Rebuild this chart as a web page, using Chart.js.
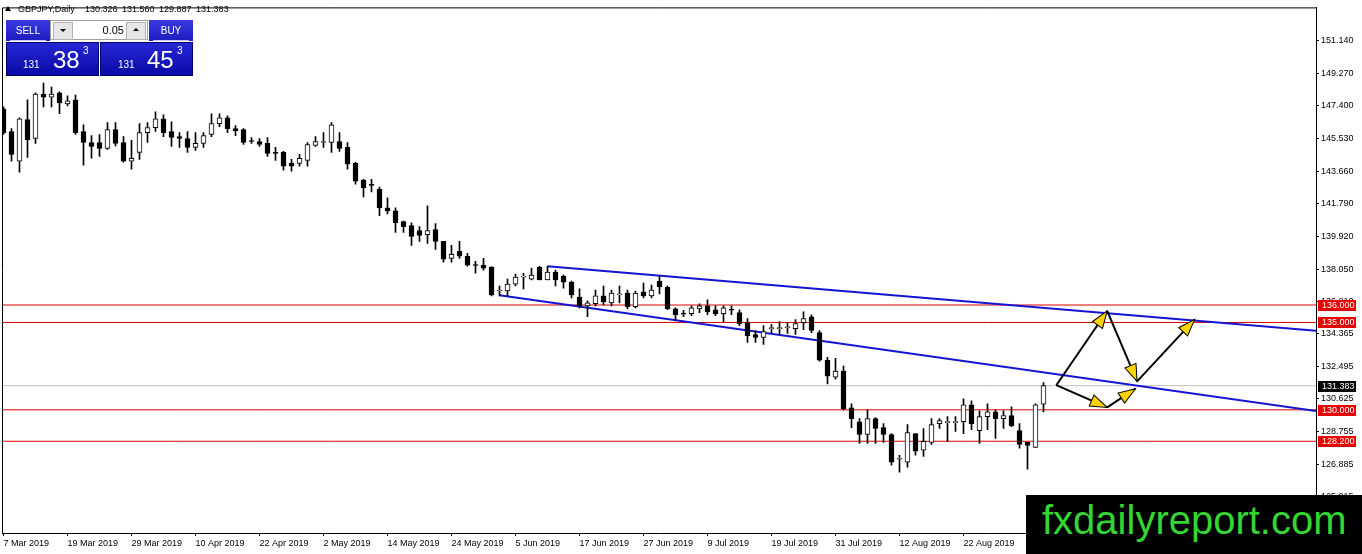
<!DOCTYPE html>
<html>
<head>
<meta charset="utf-8">
<title>GBPJPY,Daily</title>
<script src="https://cdn.jsdelivr.net/npm/chart.js@4.4.1/dist/chart.umd.min.js"></script>
<style>
  html, body { margin: 0; padding: 0; background: #fff; }
  #wrap { position: relative; width: 1362px; height: 554px; overflow: hidden; font-family: "Liberation Sans", Arial, sans-serif; }
  #chart { position: absolute; left: 0; top: 0; }
  .abs { position: absolute; white-space: nowrap; }
  .title { left: 18px; top: 5px; font-size: 9px; line-height: 9px; color: #000; }
  .tri { position: absolute; left: 5px; top: 6px; width: 0; height: 0; border-left: 3px solid transparent; border-right: 3px solid transparent; border-bottom: 5px solid #000; }
  .btn { top: 20px; height: 21px; width: 44px; background: linear-gradient(#3a3ae0, #1c1cc0); color: #fff; font-size: 10px; line-height: 21px; text-align: center; }
  .lot { left: 50px; top: 20px; width: 98px; height: 20px; background: #fff; border: 1px solid #a0a0a0; box-sizing: border-box; }
  .arr { position: absolute; top: 1px; width: 18px; height: 16px; background: #e6e6e6; border: 1px solid #b4b4b4; }
  .dn { left: 2px; }
  .up { right: 1px; }
  .dn i, .up i { position: absolute; left: 6px; top: 6px; width: 0; height: 0; border-left: 3px solid transparent; border-right: 3px solid transparent; }
  .dn i { border-top: 3px solid #000; }
  .up i { border-bottom: 3px solid #000; top: 5px; }
  .lotval { position: absolute; right: 23px; top: 3px; font-size: 11px; line-height: 12px; color: #000; }
  .price { top: 42px; height: 34px; width: 93px; background: linear-gradient(#2626d4, #0a0aa8); border: 1px solid #00006a; box-sizing: border-box; }
  .sep { position: absolute; top: 40px; height: 1px; background: #c8c8ff; }
  .pt { color: #fff; }
  .small { font-size: 10px; line-height: 10px; }
  .big { font-size: 24px; line-height: 24px; }
  #mark { left: 1026px; top: 495px; width: 336px; height: 59px; background: #000; }
  #mark span { position: absolute; left: 16px; top: 5px; font-size: 40px; line-height: 40px; color: #33d633; }
</style>
</head>
<body>
<div id="wrap">
  <canvas id="chart" width="1362" height="554"></canvas>

  <div class="tri"></div>
  <div class="abs title">GBPJPY,Daily</div>
  <div class="abs title" style="left:85px;word-spacing:2px;">130.326 131.560 129.887 131.383</div>

  <div class="abs btn" style="left:6px;">SELL</div>
  <div class="abs lot">
    <div class="arr dn"><i></i></div>
    <div class="lotval">0.05</div>
    <div class="arr up"><i></i></div>
  </div>
  <div class="abs btn" style="left:149px;">BUY</div>
  <div class="sep" style="left:10px;width:36px;"></div>
  <div class="sep" style="left:153px;width:36px;"></div>

  <div class="abs price" style="left:6px;"></div>
  <div class="abs price" style="left:100px;"></div>
  <div class="abs pt small" style="left:23px;top:60px;">131</div>
  <div class="abs pt big" style="left:53px;top:48px;">38</div>
  <div class="abs pt small" style="left:83px;top:46px;">3</div>
  <div class="abs pt small" style="left:118px;top:60px;">131</div>
  <div class="abs pt big" style="left:147px;top:48px;">45</div>
  <div class="abs pt small" style="left:177px;top:46px;">3</div>

  <div class="abs" id="mark"><span>fxdailyreport.com</span></div>
</div>

<script>
// bar 0 = 7 Mar 2019, one bar per trading day, last bar = 5 Sep 2019
const tickLabels = ['7 Mar 2019', '19 Mar 2019', '29 Mar 2019', '10 Apr 2019', '22 Apr 2019', '2 May 2019',
  '14 May 2019', '24 May 2019', '5 Jun 2019', '17 Jun 2019', '27 Jun 2019', '9 Jul 2019',
  '19 Jul 2019', '31 Jul 2019', '12 Aug 2019', '22 Aug 2019'];
const TICK_EVERY = 8;

const opens = [
  147.23, 145.93, 144.23, 146.61, 145.53, 148.08, 147.90, 148.14, 147.51, 147.74,
  145.93, 145.30, 145.30, 144.96, 146.04, 145.30, 144.23, 144.74, 145.87, 146.15,
  146.66, 145.93, 145.64, 145.53, 145.02, 145.25, 145.76, 146.38, 146.72, 146.10,
  146.04, 145.40, 145.36, 145.25, 144.74, 144.74, 144.11, 144.11, 144.28, 145.13,
  145.30, 145.30, 145.36, 145.02, 144.11, 143.15, 142.87, 142.64, 141.56, 141.39,
  140.77, 140.54, 140.26, 140.03, 140.32, 139.64, 138.67, 139.07, 138.79, 138.28,
  138.28, 138.16, 136.80, 136.80, 137.20, 137.60, 137.48, 138.16, 137.43, 137.88,
  137.65, 137.31, 136.46, 135.95, 136.07, 136.52, 136.12, 136.58, 136.69, 135.90,
  136.75, 136.52, 137.37, 137.03, 135.78, 135.50, 135.50, 135.78, 135.95, 135.73,
  135.50, 135.73, 135.56, 134.99, 134.31, 134.14, 134.65, 134.65, 134.70, 134.65,
  134.99, 135.33, 134.42, 132.84, 131.87, 132.22, 130.12, 129.32, 128.59, 129.50,
  128.98, 128.59, 127.17, 127.00, 128.64, 127.69, 128.14, 129.21, 129.27, 129.27,
  129.32, 130.29, 128.81, 129.61, 129.89, 129.50, 129.67, 128.81, 128.14, 127.85, 130.326
];
const highs = [
  147.35, 146.10, 146.72, 147.74, 148.15, 148.70, 148.48, 148.20, 147.97, 148.02,
  146.32, 145.70, 145.76, 146.44, 146.44, 145.64, 145.42, 146.38, 146.44, 147.06,
  146.89, 146.49, 145.87, 145.93, 145.87, 145.87, 146.95, 146.95, 146.83, 146.27,
  146.10, 145.59, 145.53, 145.59, 145.02, 144.79, 144.34, 144.62, 145.30, 145.64,
  145.87, 146.44, 145.87, 145.30, 144.17, 143.20, 143.20, 142.75, 142.13, 141.56,
  140.80, 140.71, 140.49, 141.68, 140.66, 139.64, 139.41, 139.64, 138.96, 138.50,
  138.67, 138.20, 137.09, 137.48, 137.77, 137.82, 138.11, 138.22, 138.22, 138.00,
  137.71, 137.37, 136.92, 136.24, 136.86, 137.09, 136.86, 137.09, 136.86, 136.80,
  137.26, 137.14, 137.65, 137.09, 135.84, 135.70, 135.95, 136.07, 136.29, 135.95,
  135.95, 135.95, 135.73, 135.22, 134.54, 134.82, 134.88, 135.05, 134.99, 135.16,
  135.61, 135.44, 134.54, 133.01, 132.95, 132.50, 130.34, 129.50, 130.00, 129.55,
  129.21, 128.64, 127.40, 129.15, 128.64, 128.93, 129.50, 129.50, 129.61, 129.61,
  130.63, 130.51, 129.95, 130.34, 130.00, 129.95, 130.17, 129.21, 128.14, 130.34, 131.560
];
const lows = [
  145.76, 144.23, 143.60, 144.45, 145.25, 147.34, 147.34, 146.95, 147.40, 145.76,
  144.00, 144.40, 144.51, 144.90, 145.10, 144.17, 143.77, 144.34, 145.30, 145.93,
  145.64, 145.08, 145.02, 144.74, 144.85, 145.02, 145.64, 146.21, 145.87, 145.70,
  145.19, 145.25, 145.08, 144.51, 144.28, 143.72, 143.66, 143.94, 143.94, 145.08,
  145.02, 144.74, 144.79, 143.77, 142.92, 142.19, 142.47, 141.11, 141.22, 140.15,
  140.15, 139.41, 139.64, 139.52, 139.18, 138.45, 138.45, 138.67, 138.22, 137.82,
  137.99, 136.52, 136.52, 136.52, 137.09, 136.92, 137.43, 137.43, 137.43, 137.09,
  136.97, 136.41, 135.84, 135.33, 135.95, 136.01, 135.95, 136.12, 135.78, 135.84,
  136.41, 136.41, 136.63, 135.73, 135.10, 135.33, 135.39, 135.56, 135.44, 135.39,
  135.05, 135.44, 134.82, 133.86, 133.86, 133.74, 134.42, 134.31, 134.37, 134.31,
  134.59, 134.42, 132.78, 131.48, 131.76, 130.00, 128.98, 128.08, 128.08, 128.08,
  128.14, 126.83, 126.43, 126.72, 127.40, 127.34, 128.02, 128.93, 128.19, 128.76,
  128.64, 128.87, 128.08, 128.87, 128.36, 128.93, 129.04, 127.80, 126.60, 127.85, 129.887
];
const closes = [
  145.87, 144.62, 146.66, 145.47, 148.08, 147.90, 148.08, 147.57, 147.68, 145.87,
  145.30, 145.08, 144.96, 146.04, 145.25, 144.23, 144.40, 145.87, 146.15, 146.66,
  145.87, 145.59, 145.53, 145.02, 145.25, 145.70, 146.38, 146.72, 146.10, 145.98,
  145.30, 145.36, 145.19, 144.68, 144.68, 143.94, 143.94, 144.40, 145.19, 145.36,
  145.36, 146.32, 144.96, 144.06, 143.09, 142.70, 142.85, 141.56, 141.39, 140.71,
  140.49, 139.92, 139.98, 140.26, 139.64, 138.62, 138.90, 138.79, 138.28, 138.26,
  138.11, 136.58, 136.83, 137.20, 137.60, 137.65, 137.71, 137.43, 137.88, 137.43,
  137.31, 136.58, 135.95, 136.12, 136.52, 136.18, 136.69, 136.60, 135.90, 136.69,
  136.52, 136.86, 137.03, 135.78, 135.44, 135.48, 135.84, 135.95, 135.61, 135.50,
  135.84, 135.71, 134.93, 134.25, 134.14, 134.48, 134.68, 134.70, 134.72, 134.93,
  135.22, 134.54, 132.84, 131.93, 132.22, 130.06, 129.50, 128.59, 129.50, 128.93,
  128.59, 127.00, 127.20, 128.70, 127.63, 128.19, 129.15, 129.38, 129.30, 129.30,
  130.29, 129.21, 129.61, 129.89, 129.50, 129.67, 129.10, 128.02, 127.97, 130.29, 131.383
];

const levels = [136.0, 135.0, 130.0, 128.2];
const bidPrice = 131.383;
const yTicks = [151.140, 149.270, 147.400, 145.530, 143.660, 141.790, 139.920, 138.050,
  136.210, 134.365, 132.495, 130.625, 128.755, 126.885, 125.015];

// trend lines: [bar index, price]
const upperTrend = [[68, 138.22], [164.2, 134.52]];
const lowerTrend = [[62, 136.56], [164.2, 129.93]];
// projected path arrows, each from -> to
const arrowPaths = [
  [[131.6, 131.41], [137.96, 135.66]],
  [[137.96, 135.66], [141.7, 131.63]],
  [[141.7, 131.63], [148.9, 135.18]],
  [[131.6, 131.41], [137.96, 130.14]],
  [[137.96, 130.14], [141.5, 131.21]]
];

const X_MIN = -0.1875, X_MAX = 164.0625;
const Y_MIN = 122.95, Y_MAX = 153.035;

const toPts = arr => arr.map(p => ({ x: p[0], y: p[1] }));
const flat = v => [{ x: X_MIN, y: v }, { x: X_MAX, y: v }];

let datasets = [];
datasets.push({
  type: 'bar',
  data: opens.map((o, i) => ({ x: i, y: [o, closes[i]] })),
  backgroundColor: opens.map((o, i) => closes[i] >= o ? '#ffffff' : '#000000'),
  borderColor: '#000000',
  borderWidth: 1,
  borderSkipped: false,
  barThickness: 5,
  minBarLength: 1,
  grouped: false,
  order: 1
});
datasets.push({
  type: 'bar',
  data: lows.map((l, i) => ({ x: i, y: [l, highs[i]] })),
  backgroundColor: '#000000',
  borderWidth: 0,
  barThickness: 1,
  grouped: false,
  order: 2
});
levels.forEach(v => datasets.push({
  type: 'line', data: flat(v), borderColor: '#dc0000', borderWidth: 1, pointRadius: 0, order: 6
}));
datasets.push({
  type: 'line', data: flat(bidPrice), borderColor: '#c0c0c0', borderWidth: 1, pointRadius: 0, order: 7
});
[upperTrend, lowerTrend].forEach(t => datasets.push({
  type: 'line', data: toPts(t), borderColor: '#1414d2', borderWidth: 2, pointRadius: 0, order: 5
}));
arrowPaths.forEach(a => datasets.push({
  type: 'line', data: toPts(a), borderColor: '#000000', borderWidth: 2, pointRadius: 0, order: 0, arrow: true
}));

const overlay = {
  id: 'overlay',
  afterDatasetsDraw(chart) {
    const ctx = chart.ctx;
    chart.data.datasets.forEach((ds, di) => {
      if (!ds.arrow) return;
      const pts = chart.getDatasetMeta(di).data;
      const a = pts[0], b = pts[pts.length - 1];
      const ang = Math.atan2(b.y - a.y, b.x - a.x);
      ctx.save();
      ctx.translate(b.x, b.y);
      ctx.rotate(ang);
      ctx.beginPath();
      ctx.moveTo(0, 0);
      ctx.lineTo(-17, -6);
      ctx.lineTo(-17, 6);
      ctx.closePath();
      ctx.fillStyle = '#ffd200';
      ctx.fill();
      ctx.lineWidth = 1;
      ctx.strokeStyle = '#000';
      ctx.stroke();
      ctx.restore();
    });
  },
  afterDraw(chart) {
    const ctx = chart.ctx;
    const area = chart.chartArea;
    const y = chart.scales.y;
    ctx.save();
    // frame top and left
    ctx.strokeStyle = '#000';
    ctx.lineWidth = 1;
    ctx.beginPath();
    ctx.moveTo(area.left + 0.5, area.bottom);
    ctx.lineTo(area.left + 0.5, area.top + 0.5);
    ctx.lineTo(area.right, area.top + 0.5);
    ctx.stroke();
    // price tags on the axis
    ctx.font = '9px "Liberation Sans", Arial, sans-serif';
    ctx.textBaseline = 'middle';
    ctx.textAlign = 'left';
    const tag = (v, bg) => {
      const py = Math.round(y.getPixelForValue(v));
      ctx.fillStyle = bg;
      ctx.fillRect(area.right + 2, py - 5, 38, 11);
      ctx.fillStyle = '#fff';
      ctx.fillText(v.toFixed(3), area.right + 6, py + 0.5);
    };
    levels.forEach(v => tag(v, '#e60000'));
    tag(bidPrice, '#000');
    ctx.restore();
  }
};

Chart.defaults.font.family = '"Liberation Sans", Arial, sans-serif';
Chart.defaults.font.size = 9;
Chart.defaults.color = '#000';

const ctx = document.getElementById('chart').getContext('2d');
const myChart = new Chart(ctx, {
  type: 'bar',
  data: { datasets: datasets },
  plugins: [overlay],
  options: {
    responsive: false,
    animation: false,
    events: [],
    layout: { padding: { left: 2, top: 2, right: 0, bottom: 0 } },
    plugins: { legend: { display: false }, tooltip: { enabled: false }, title: { display: false } },
    scales: {
      x: {
        type: 'linear',
        min: X_MIN,
        max: X_MAX,
        offset: false,
        afterFit: s => { s.height = 21; },
        afterBuildTicks: s => { s.ticks = tickLabels.map((t, i) => ({ value: i * TICK_EVERY })); },
        grid: { drawOnChartArea: false, drawTicks: true, tickLength: 3, color: '#000', offset: false },
        border: { display: true, color: '#000' },
        ticks: {
          autoSkip: false,
          maxRotation: 0,
          align: 'start',
          padding: 2,
          callback: v => tickLabels[Math.round(v / TICK_EVERY)] || ''
        }
      },
      y: {
        position: 'right',
        min: Y_MIN,
        max: Y_MAX,
        afterFit: s => { s.width = 46; },
        afterBuildTicks: s => { s.ticks = yTicks.map(v => ({ value: v })); },
        grid: { drawOnChartArea: false, drawTicks: true, tickLength: 3, color: '#000' },
        border: { display: true, color: '#000' },
        ticks: { autoSkip: false, padding: 2, callback: v => Number(v).toFixed(3) }
      }
    }
  }
});
</script>
</body>
</html>
